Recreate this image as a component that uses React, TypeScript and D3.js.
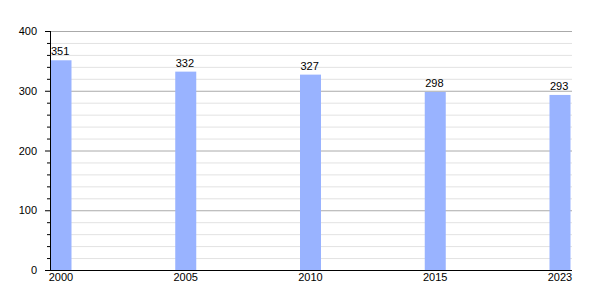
import React from "react";
import * as d3 from "d3";

const years = ["2000", "2005", "2010", "2015", "2023"];
const values = [351, 332, 327, 298, 293];
const majorTicks = [0, 100, 200, 300, 400];

const W = 600;
const H = 300;
const left = 50;
const right = 572;
const top = 31;
const bottom = 270;
const barW = 21;
const font = "'Liberation Sans', Arial, sans-serif";

export default function App() {
  const y = d3.scaleLinear().domain([0, 400]).range([bottom, top]);
  const x = d3.scalePoint<string>().domain(years).range([61, 560]);
  const minor = d3.range(0, 401, 20).filter((v) => v % 100 !== 0);

  return (
    <svg
      width={W}
      height={H}
      style={{ position: "absolute", left: 0, top: 0, background: "#fff" }}
      fontFamily={font}
    >
      {minor.map((v) => (
        <g key={"m" + v}>
          <line x1={left} x2={right} y1={y(v) + 0.5} y2={y(v) + 0.5} stroke="#e2e2e2" />
          <line x1={left - 3} x2={left} y1={y(v) + 0.5} y2={y(v) + 0.5} stroke="#000" />
        </g>
      ))}
      {majorTicks.map((v) => (
        <g key={"M" + v}>
          {v > 0 && (
            <line x1={left} x2={right} y1={y(v) + 0.5} y2={y(v) + 0.5} stroke="#aaaaaa" />
          )}
          <line x1={left - 5} x2={left} y1={y(v) + 0.5} y2={y(v) + 0.5} stroke="#000" />
          <text x={37} y={y(v) + 4} textAnchor="end" fontSize={11} fill="#000">
            {v}
          </text>
        </g>
      ))}
      {years.map((yr, i) => {
        const cx = x(yr)!;
        return (
          <g key={yr}>
            <rect
              x={cx - barW / 2}
              y={y(values[i])}
              width={barW}
              height={bottom - y(values[i])}
              fill="#99b3ff"
            />
            <text x={cx - barW / 2 + 0.5} y={y(values[i]) - 5} fontSize={11} fill="#000">
              {values[i]}
            </text>
            <text x={cx} y={281} textAnchor="middle" fontSize={11} fill="#000">
              {yr}
            </text>
          </g>
        );
      })}
      <line x1={left + 0.5} x2={left + 0.5} y1={top} y2={bottom + 0.5} stroke="#000" />
      <line x1={left} x2={right} y1={bottom + 0.5} y2={bottom + 0.5} stroke="#000" />
    </svg>
  );
}
